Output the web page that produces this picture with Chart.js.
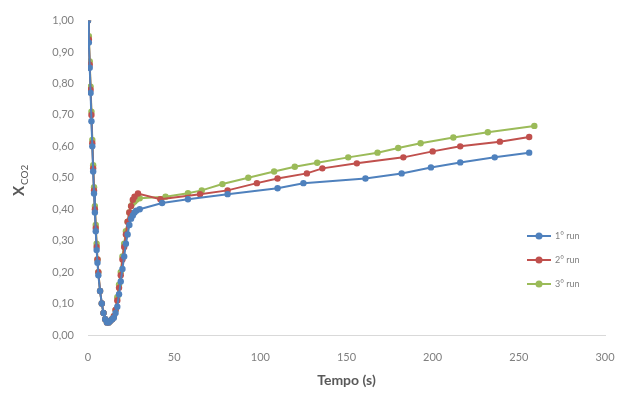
<!DOCTYPE html>
<html>
<head>
<meta charset="utf-8">
<script src="https://cdn.jsdelivr.net/npm/chart.js@4.4.0/dist/chart.umd.min.js"></script>
<style>
  html, body { margin: 0; padding: 0; background: #fff; }
  #wrap { width: 622px; height: 401px; }
</style>
</head>
<body>
<div id="wrap"><canvas id="co2Chart"></canvas></div>
<script>
// tempo (s) e fração X_CO2 de cada corrida
const tempo1 = [0, 0.5, 1, 1.5, 2, 2.5, 3, 3.5, 4, 4.5, 5, 5.5, 6, 7, 8, 9, 10, 11, 12, 13, 14, 15, 16, 17, 18, 19, 20, 21, 22, 23, 24, 25, 26, 27, 28, 30,
  43, 58, 81, 110, 125, 161, 182, 199, 216, 236, 256];
const run1 = [1.00, 0.93, 0.85, 0.77, 0.68, 0.60, 0.52, 0.45, 0.39, 0.33, 0.27, 0.23, 0.19, 0.14, 0.10, 0.07, 0.05, 0.04, 0.04, 0.045, 0.05, 0.055, 0.07, 0.09, 0.13, 0.17, 0.21, 0.25, 0.29, 0.32, 0.35, 0.37, 0.38, 0.39, 0.395, 0.40,
  0.42, 0.432, 0.448, 0.467, 0.483, 0.498, 0.514, 0.533, 0.549, 0.565, 0.58];

const tempo2 = [0, 0.5, 1, 1.5, 2, 2.5, 3, 3.5, 4, 4.5, 5, 5.5, 6, 7, 8, 9, 10, 11, 12, 13, 14, 15, 16, 17, 18, 19, 20, 21, 22, 23, 24, 25, 26, 27, 29,
  42, 65, 81, 98, 110, 127, 136, 156, 183, 200, 216, 239, 256];
const run2 = [1.00, 0.94, 0.86, 0.78, 0.70, 0.61, 0.53, 0.46, 0.40, 0.34, 0.28, 0.24, 0.20, 0.14, 0.10, 0.07, 0.05, 0.04, 0.04, 0.045, 0.05, 0.06, 0.08, 0.11, 0.15, 0.19, 0.24, 0.28, 0.32, 0.36, 0.39, 0.41, 0.43, 0.44, 0.45,
  0.432, 0.448, 0.46, 0.483, 0.498, 0.514, 0.53, 0.546, 0.565, 0.584, 0.60, 0.615, 0.63];

const tempo3 = [0, 0.5, 1, 1.5, 2, 2.5, 3, 3.5, 4, 4.5, 5, 5.5, 6, 7, 8, 9, 10, 11, 12, 13, 14, 15, 16, 17, 18, 19, 20, 21, 22, 23, 24, 25, 26, 27, 28, 30,
  45, 58, 66, 78, 93, 108, 120, 133, 151, 168, 180, 193, 212, 232, 259];
const run3 = [1.00, 0.95, 0.87, 0.79, 0.71, 0.62, 0.54, 0.47, 0.41, 0.35, 0.29, 0.24, 0.20, 0.14, 0.10, 0.07, 0.05, 0.04, 0.04, 0.045, 0.05, 0.06, 0.08, 0.12, 0.16, 0.20, 0.25, 0.29, 0.33, 0.36, 0.39, 0.41, 0.42, 0.425, 0.43, 0.435,
  0.44, 0.451, 0.46, 0.48, 0.50, 0.52, 0.535, 0.548, 0.565, 0.58, 0.595, 0.61, 0.628, 0.645, 0.665];

const seriesNames = ["1° run", "2° run", "3° run"];
const seriesColors = ["#4F81BD", "#C0504D", "#9BBB59"];
const xTicks = [0, 50, 100, 150, 200, 250, 300];
const yTicks = ["0,00", "0,10", "0,20", "0,30", "0,40", "0,50", "0,60", "0,70", "0,80", "0,90", "1,00"];

function pontos(ts, vs) {
  return ts.map((t, i) => ({ x: t, y: vs[i] }));
}

// legenda estilo Excel (linha + marcador) dentro da área do gráfico
const legendaExcel = {
  id: "legendaExcel",
  afterDraw(chart) {
    const ctx = chart.ctx;
    const x0 = 527;
    ctx.save();
    chart.data.datasets.forEach((ds, i) => {
      const y = 236 + i * 24;
      ctx.strokeStyle = ds.borderColor;
      ctx.lineWidth = 2;
      ctx.beginPath();
      ctx.moveTo(x0, y);
      ctx.lineTo(x0 + 24, y);
      ctx.stroke();
      ctx.fillStyle = ds.borderColor;
      ctx.beginPath();
      ctx.arc(x0 + 12, y, 3.5, 0, Math.PI * 2);
      ctx.fill();
      ctx.fillStyle = "#7f7f7f";
      ctx.font = "9px Lato, sans-serif";
      ctx.textBaseline = "middle";
      ctx.fillText(ds.label, x0 + 28, y);
    });
    ctx.restore();
  }
};

// título do eixo Y com subscrito: X_CO2
const tituloY = {
  id: "tituloY",
  afterDraw(chart) {
    const ctx = chart.ctx;
    ctx.save();
    ctx.translate(24, 196);
    ctx.rotate(-Math.PI / 2);
    ctx.fillStyle = "#595959";
    ctx.textBaseline = "alphabetic";
    ctx.font = "bold 15px Lato, sans-serif";
    ctx.fillText("X", 0, 0);
    const w = ctx.measureText("X").width;
    ctx.font = "10px Lato, sans-serif";
    ctx.fillText("CO2", w + 1, 4);
    ctx.restore();
  }
};

const ctx = document.getElementById("co2Chart").getContext("2d");
new Chart(ctx, {
  type: "line",
  data: {
    datasets: [
      { label: seriesNames[0], data: pontos(tempo1, run1) },
      { label: seriesNames[1], data: pontos(tempo2, run2) },
      { label: seriesNames[2], data: pontos(tempo3, run3) }
    ].map((ds, i) => ({
      ...ds,
      borderColor: seriesColors[i],
      backgroundColor: seriesColors[i],
      borderWidth: 2,
      pointRadius: 3.2,
      pointBorderWidth: 0,
      tension: 0
    }))
  },
  options: {
    responsive: true,
    maintainAspectRatio: false,
    animation: false,
    layout: { padding: { top: 8, right: 17, left: 0, bottom: 0 } },
    plugins: {
      legend: { display: false },
      tooltip: { enabled: false }
    },
    scales: {
      x: {
        type: "linear",
        min: 0,
        max: 300,
        afterBuildTicks: (axis) => { axis.ticks = xTicks.map((v) => ({ value: v })); },
        afterFit: (axis) => { axis.height = 66; axis.paddingRight = 0; axis.paddingLeft = 0; },
        grid: { display: false, drawTicks: false },
        border: { display: true, color: "#d9d9d9", width: 1 },
        ticks: { color: "#7f7f7f", font: { family: "Lato", size: 11 }, padding: 16, maxRotation: 0 },
        title: {
          display: true,
          text: "Tempo (s)",
          color: "#595959",
          font: { family: "Lato", size: 14, weight: "bold" },
          padding: { top: 4, bottom: 12 }
        }
      },
      y: {
        min: 0,
        max: 1,
        afterBuildTicks: (axis) => { axis.ticks = yTicks.map((_, i) => ({ value: i / 10 })); },
        afterFit: (axis) => { axis.width = 88; },
        grid: { display: false, drawTicks: false },
        border: { display: false },
        ticks: {
          color: "#7f7f7f",
          font: { family: "Lato", size: 11 },
          padding: 14,
          callback: (v) => yTicks[Math.round(v * 10)]
        }
      }
    }
  },
  plugins: [legendaExcel, tituloY]
});
</script>
</body>
</html>
